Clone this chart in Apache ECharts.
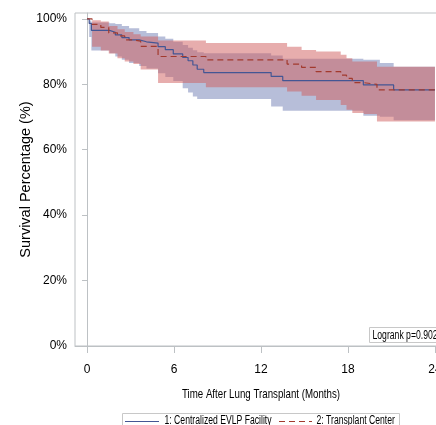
<!DOCTYPE html>
<html>
<head>
<meta charset="utf-8">
<script src="https://cdn.jsdelivr.net/npm/echarts@6/dist/echarts.min.js"></script>
<style>
html,body{margin:0;padding:0;background:#fff;}
#chart{width:436px;height:425px;}
</style>
</head>
<body>
<div id="chart"></div>
<script>
// ---- Data (months, survival %) ----
const seriesNames = ['1: Centralized EVLP Facility', '2: Transplant Center'];
const xTickValues = [0, 6, 12, 18, 24];
const yTickValues = [0, 20, 40, 60, 80, 100];
const xTitle = 'Time After Lung Transplant (Months)';
const yTitle = 'Survival Percentage (%)';
const pValueText = 'Logrank p=0.902';

const blueTime  = [0, 0.15, 0.3, 1.55, 1.95, 2.4, 2.9, 3.6, 4.1, 4.9, 5.4, 5.95, 6.6, 6.97, 7.3, 7.6, 8.05, 12.7, 13.5, 19.06, 20.2, 21.15, 24];
const blueSurv  = [100, 98.6, 96.5, 95.9, 95.1, 94.3, 93.6, 93.0, 92.6, 91.5, 90.6, 89.3, 88.2, 87.2, 85.9, 84.6, 83.6, 82.4, 81.1, 79.8, 79.8, 78.3, 78.3];
const blueUpper = [100, 99.5, 98.9, 98.7, 98.4, 97.8, 97.1, 96.3, 95.7, 94.6, 93.9, 93.0, 92.0, 91.2, 90.4, 89.8, 89.5, 88.8, 87.8, 87.5, 86.5, 85.4, 85.4];
const blueLower = [100, 94.5, 90.3, 89.5, 88.5, 87.5, 86.5, 85.6, 84.8, 83.4, 82.2, 81.0, 78.8, 77.5, 76.3, 75.5, 75.5, 73.2, 71.9, 70.4, 70.1, 69.0, 69.0];

const redTime  = [0, 0.35, 0.95, 1.5, 2.1, 2.6, 3.2, 3.7, 4.9, 8.2, 13.8, 14.8, 15.8, 17.5, 17.9, 18.3, 19.1, 20.0, 24];
const redSurv  = [100, 98.3, 97.4, 95.7, 94.8, 93.6, 93.2, 91.6, 88.5, 87.5, 86.2, 85.2, 83.9, 82.8, 81.8, 80.5, 80.0, 78.3, 78.3];
const redUpper = [100, 99.6, 99.2, 97.8, 96.8, 96.0, 95.3, 94.6, 93.4, 92.6, 91.5, 90.5, 90.0, 89.0, 88.0, 87.0, 87.0, 85.4, 85.4];
const redLower = [100, 91.5, 90.3, 89.4, 88.0, 87.0, 86.2, 84.5, 80.4, 79.1, 77.8, 76.5, 75.2, 73.7, 72.2, 71.2, 70.9, 68.6, 68.6];

// ---- Build ----
const pair = (xs, ys) => xs.map((x, i) => [x, ys[i]]);
const triple = (xs, lo, hi) => xs.map((x, i) => [x, lo[i], hi[i]]);

const REG = 'Liberation Sans, Arial, sans-serif';
const AXIS_GREY = '#BDC1C4';
const BOX_GREY = '#C8C8C8';
const TXT = '#000';
const BLUE = '#445694', RED = '#A23A2E';
const BLUE_FILL = 'rgba(111,126,179,0.5)', RED_FILL = 'rgba(208,91,91,0.5)';
const SX = 0.72; // horizontal condensing to imitate a narrow face

// one step-shaped polygon per confidence band, built through api.coord
function bandSeries(name, rows, fill, z) {
  return {
    name, type: 'custom', silent: true, z, data: rows,
    encode: { x: 0, y: [1, 2] },
    renderItem: function (params, api) {
      if (params.dataIndex !== 0) return null;
      const up = [], low = [];
      for (let i = 0; i < rows.length - 1; i++) {
        const t0 = rows[i][0], t1 = rows[i + 1][0];
        up.push(api.coord([t0, rows[i][2]]), api.coord([t1, rows[i][2]]));
        low.push(api.coord([t0, rows[i][1]]), api.coord([t1, rows[i][1]]));
      }
      const pts = up.concat(low.reverse());
      return { type: 'polygon', shape: { points: pts }, style: { fill: fill, stroke: null } };
    }
  };
}

const chart = echarts.init(document.getElementById('chart'), null, { renderer: 'canvas' });
chart.setOption({
  animation: false,
  backgroundColor: '#fff',
  grid: { left: 75, top: 13, width: 373, bottom: 79, show: true, borderColor: AXIS_GREY, borderWidth: 1,
    containLabel: false, outerBoundsMode: 'none' },
  xAxis: {
    type: 'value', min: -0.83, max: 24.9,
    axisLine: { show: true, lineStyle: { color: AXIS_GREY, width: 1 } },
    axisTick: { show: true, length: 7, lineStyle: { color: AXIS_GREY }, customValues: xTickValues },
    axisLabel: { customValues: xTickValues, margin: 18, fontFamily: REG, fontSize: 12, color: TXT, hideOverlap: false },
    splitLine: { show: false }
  },
  yAxis: {
    type: 'value', min: 0, max: 101.8,
    name: yTitle, nameLocation: 'middle', nameGap: 42, nameRotate: 90, nameMoveOverlap: false,
    nameTextStyle: { fontFamily: REG, fontSize: 14.5, color: TXT },
    axisLine: { show: true, lineStyle: { color: AXIS_GREY, width: 1 } },
    axisTick: { show: true, length: 5, lineStyle: { color: AXIS_GREY }, customValues: yTickValues },
    axisLabel: { customValues: yTickValues, margin: 8, fontFamily: REG, fontSize: 12, color: TXT,
      formatter: v => v + '%' },
    splitLine: { show: false }
  },
  series: [
    bandSeries('blueBand', triple(blueTime, blueLower, blueUpper), BLUE_FILL, 1),
    bandSeries('redBand', triple(redTime, redLower, redUpper), RED_FILL, 2),
    { name: seriesNames[0], type: 'line', step: 'end', symbol: 'none', data: pair(blueTime, blueSurv),
      lineStyle: { color: BLUE, width: 1.2 }, itemStyle: { color: BLUE }, z: 5 },
    { name: seriesNames[1], type: 'line', step: 'end', symbol: 'none', data: pair(redTime, redSurv),
      lineStyle: { color: RED, width: 1.2, type: [6, 4] }, itemStyle: { color: RED }, z: 6 }
  ],
  graphic: [
    // x-axis title
    { type: 'text', x: 261, y: 394, scaleX: SX, z: 10,
      style: { text: xTitle, align: 'center', verticalAlign: 'middle', fontSize: 13.5, fontFamily: REG, fill: TXT } },
    // p-value box
    { type: 'rect', shape: { x: 369.5, y: 327.5, width: 80, height: 15 },
      style: { fill: '#fff', stroke: BOX_GREY, lineWidth: 1 }, z: 10 },
    { type: 'text', x: 372.5, y: 335.5, scaleX: SX, z: 11,
      style: { text: pValueText, verticalAlign: 'middle', fontSize: 12, fontFamily: REG, fill: TXT } },
    // legend
    { type: 'rect', shape: { x: 122.5, y: 413.5, width: 277, height: 20 },
      style: { fill: '#fff', stroke: BOX_GREY, lineWidth: 1 }, z: 10 },
    { type: 'line', shape: { x1: 125, y1: 421.5, x2: 159, y2: 421.5 },
      style: { stroke: BLUE, lineWidth: 1.2 }, z: 11 },
    { type: 'text', x: 164.5, y: 421, scaleX: SX, z: 11,
      style: { text: seriesNames[0], verticalAlign: 'middle', fontSize: 12, fontFamily: REG, fill: TXT } },
    { type: 'line', shape: { x1: 279, y1: 421.5, x2: 312, y2: 421.5 },
      style: { stroke: RED, lineWidth: 1.2, lineDash: [6, 4] }, z: 11 },
    { type: 'text', x: 316.5, y: 421, scaleX: SX, z: 11,
      style: { text: seriesNames[1], verticalAlign: 'middle', fontSize: 12, fontFamily: REG, fill: TXT } }
  ]
});
</script>
</body>
</html>
